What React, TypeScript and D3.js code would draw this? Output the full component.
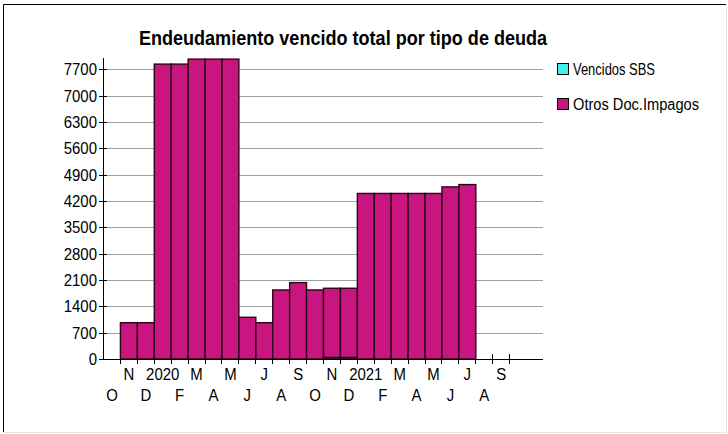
import React from "react";
import * as d3 from "d3";

const months = ["O","N","D","2020","F","M","A","M","J","J","A","S","O","N","D","2021","F","M","A","M","J","J","A","S","",""];
const vencidosSBS = [0,0,0,0,0,0,0,0,0,0,0,0,0,40,40,0,0,0,0,0,0,0,0,0,0,0];
const otrosDocImpagos = [0,965,965,7838,7838,7970,7970,7970,1109,965,1835,2030,1835,1840,1840,4400,4400,4400,4400,4400,4574,4636,0,0,0,0];
const yTicks = [0,700,1400,2100,2800,3500,4200,4900,5600,6300,7000,7700];
const seriesNames = ["Vencidos SBS", "Otros Doc.Impagos"];
const seriesColors = ["#3ff2f2", "#c8157f"];

const W = 728, H = 434;
const left = 103, right = 543, top = 58, bottom = 359;
const FONT = "'Liberation Sans', Arial, sans-serif";

function CText({ x, y, sx, size, anchor, bold, children }: any) {
  return (
    <text transform={`translate(${x},${y}) scale(${sx},1)`} textAnchor={anchor || "start"} fontFamily={FONT}
      fontWeight={bold ? "bold" : "normal"} fontSize={size} fill="#000">
      {children}
    </text>
  );
}

export default function App() {
  const x = d3.scaleBand<number>().domain(d3.range(months.length)).range([left, right]).padding(0);
  const y = d3.scaleLinear().domain([0, 8000]).range([bottom, top]);
  const stack = d3.stack<number>().keys([0, 1]).value((i, k) => (k === 0 ? vencidosSBS[i] : otrosDocImpagos[i]));
  const layers = stack(d3.range(months.length));
  const step = x.step();
  const legendWidths = [82, 126];
  return (
    <svg width={W} height={H} style={{ position: "absolute", left: 0, top: 0, background: "#fff" }}>
      <rect x={0} y={0} width={W} height={H} fill="#fff" />
      {/* frame */}
      <line x1={3.5} y1={4.5} x2={726} y2={4.5} stroke="#000" />
      <line x1={3.5} y1={4.5} x2={3.5} y2={432} stroke="#000" />
      <line x1={3.5} y1={432.5} x2={727} y2={432.5} stroke="#e4e4e4" />
      <line x1={726.5} y1={4.5} x2={726.5} y2={432.5} stroke="#e4e4e4" />
      {/* title */}
      <CText x={343} y={45} sx={0.86} size={21} anchor="middle" bold>
        Endeudamiento vencido total por tipo de deuda
      </CText>
      {/* gridlines */}
      {yTicks.filter((t) => t > 0).map((t) => (
        <line key={t} x1={left} x2={right} y1={Math.round(y(t)) + 0.5} y2={Math.round(y(t)) + 0.5} stroke="#a0a0a0" />
      ))}
      {/* bars */}
      {layers.map((layer, k) =>
        layer.map((d, i) =>
          d[1] - d[0] > 0 ? (
            <rect key={k + "-" + i} x={x(i)! + 0.5} y={y(d[1])} width={step} height={y(d[0]) - y(d[1])}
              fill={seriesColors[k]} stroke="#2a0618" strokeWidth={1.4} />
          ) : null
        )
      )}
      {/* axes */}
      <line x1={left + 0.5} x2={left + 0.5} y1={top} y2={bottom + 1} stroke="#000" />
      <line x1={left} x2={right} y1={bottom + 0.5} y2={bottom + 0.5} stroke="#000" />
      {yTicks.map((t) => (
        <g key={t}>
          <line x1={99} x2={t === 0 ? left : 107} y1={Math.round(y(t)) + 0.5} y2={Math.round(y(t)) + 0.5} stroke="#000" />
          <CText x={97} y={y(t) + 6} sx={0.88} size={17} anchor="end">{t}</CText>
        </g>
      ))}
      {d3.range(1, 25).map((i) => (
        <line key={i} x1={Math.round(left + i * step) + 0.5} x2={Math.round(left + i * step) + 0.5} y1={i > 22 ? 354 : bottom} y2={364} stroke="#000" />
      ))}
      {months.map((m, i) => (
        <CText key={i} x={x(i)! + step / 2 + 0.5} y={i % 2 === 0 ? 401 : 380} sx={0.88} size={17} anchor="middle">{m}</CText>
      ))}
      {/* legend */}
      {seriesNames.map((s, k) => (
        <g key={s} transform={`translate(557, ${63 + k * 35})`}>
          <rect x={0.5} y={0.5} width={11} height={11} fill={seriesColors[k]} stroke="#000" />
          <text x={16} y={12} fontFamily={FONT} fontSize={16} fill="#000" textLength={legendWidths[k]} lengthAdjust="spacingAndGlyphs">{s}</text>
        </g>
      ))}
    </svg>
  );
}
